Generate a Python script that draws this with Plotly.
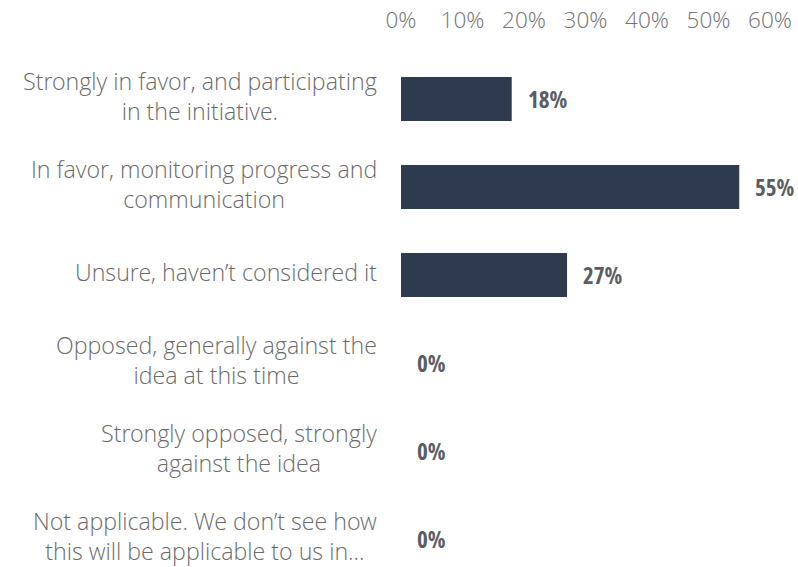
import plotly.graph_objects as go

categories = [
    "Strongly in favor, and participating<br>in the initiative.",
    "In favor, monitoring progress and<br>communication",
    "Unsure, haven\u2019t considered it",
    "Opposed, generally against the<br>idea at this time",
    "Strongly opposed, strongly<br>against the idea",
    "Not applicable. We don\u2019t see how<br>this will be applicable to us in...",
]
values = [18, 55, 27, 0, 0, 0]
tick_vals = [0, 10, 20, 30, 40, 50, 60]
tick_text = ["0%", "10%", "20%", "30%", "40%", "50%", "60%"]

bar_color = "#2e3a4d"
label_color = "#6a6a6a"
light_font = "Open Sans Light, Open Sans"

fig = go.Figure()
fig.add_trace(go.Bar(
    x=values, y=categories, orientation="h",
    marker=dict(color=bar_color, line=dict(width=0)),
    width=0.5, hoverinfo="skip",
))

annotations = []
for cat, v in zip(categories, values):
    annotations.append(dict(
        x=0, xref="paper", y=cat, yref="y", text=cat, showarrow=False,
        xanchor="right", yanchor="middle", align="center", xshift=-23, yshift=3,
        borderpad=0,
        font=dict(family=light_font, size=23.2, color=label_color, weight=300),
    ))
    annotations.append(dict(
        x=v, xref="x", y=cat, yref="y",
        text=f'<span style="font-stretch:condensed">{v}%</span>',
        showarrow=False, xanchor="left", yanchor="middle", xshift=14,
        font=dict(family="Open Sans, DejaVu Sans", size=23, color="#5a5d63", weight="bold"),
    ))

n = len(categories)
fig.update_layout(
    width=798, height=567,
    margin=dict(l=401, r=28, t=33, b=0),
    paper_bgcolor="white", plot_bgcolor="white",
    showlegend=False,
    annotations=annotations,
    xaxis=dict(
        side="top", range=[0, 60], tickvals=tick_vals, ticktext=tick_text,
        showgrid=False, zeroline=False, showline=False,
        tickfont=dict(family=light_font, size=22.5, color="#777777", weight=300),
    ),
    yaxis=dict(
        range=[n - 1 + 28 / 88, n - 1 + 28 / 88 - (567 - 33) / 88],
        showticklabels=False, showgrid=False, zeroline=False, showline=False,
    ),
)

fig.write_html("out.html")
